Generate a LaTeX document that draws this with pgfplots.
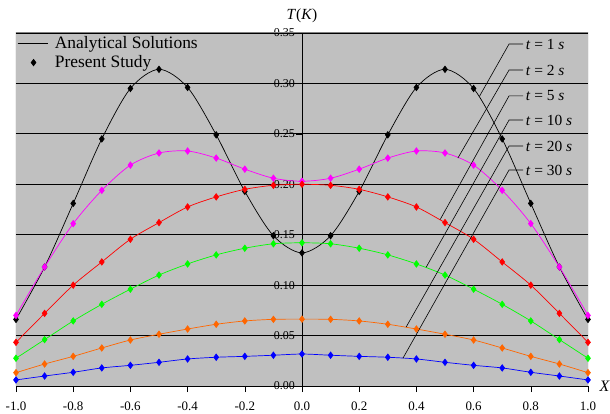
\documentclass[border=0pt]{standalone}
\usepackage{pgfplots}
\pgfplotsset{compat=1.18}
\usepackage{pgfplotstable}
\usepackage{fontspec}
\setmainfont{Liberation Serif}
\definecolor{bggray}{HTML}{C0C0C0}
\definecolor{frgray}{HTML}{808080}
\definecolor{myorange}{HTML}{FF6600}
\definecolor{mymagenta}{HTML}{FF00FF}
\definecolor{mygreen}{HTML}{00FF00}

\pgfplotstableread{
x y
-1.0 0.066
-0.9 0.118
-0.8 0.181
-0.7 0.245
-0.6 0.295
-0.5 0.314
-0.4 0.296
-0.3 0.249
-0.2 0.193
-0.1 0.149
0.0 0.132
0.1 0.149
0.2 0.193
0.3 0.249
0.4 0.296
0.5 0.314
0.6 0.295
0.7 0.245
0.8 0.181
0.9 0.118
1.0 0.066
}\tone
\pgfplotstableread{
x y
-1.0 0.070
-0.9 0.118
-0.8 0.161
-0.7 0.194
-0.6 0.219
-0.5 0.231
-0.4 0.233
-0.3 0.226
-0.2 0.215
-0.1 0.206
0.0 0.203
0.1 0.206
0.2 0.215
0.3 0.226
0.4 0.233
0.5 0.231
0.6 0.219
0.7 0.194
0.8 0.161
0.9 0.118
1.0 0.070
}\ttwo
\pgfplotstableread{
x y
-1.0 0.0433
-0.9 0.072
-0.8 0.100
-0.7 0.123
-0.6 0.1455
-0.5 0.162
-0.4 0.1775
-0.3 0.1875
-0.2 0.195
-0.1 0.199
0.0 0.200
0.1 0.199
0.2 0.195
0.3 0.1875
0.4 0.1775
0.5 0.162
0.6 0.1455
0.7 0.123
0.8 0.100
0.9 0.072
1.0 0.0433
}\tfive
\pgfplotstableread{
x y
-1.0 0.0275
-0.9 0.046
-0.8 0.0645
-0.7 0.081
-0.6 0.096
-0.5 0.110
-0.4 0.121
-0.3 0.130
-0.2 0.1366
-0.1 0.141
0.0 0.142
0.1 0.141
0.2 0.1366
0.3 0.130
0.4 0.121
0.5 0.110
0.6 0.096
0.7 0.081
0.8 0.0645
0.9 0.046
1.0 0.0275
}\tten
\pgfplotstableread{
x y
-1.0 0.0132
-0.9 0.0218
-0.8 0.0294
-0.7 0.0377
-0.6 0.0456
-0.5 0.0513
-0.4 0.0565
-0.3 0.0612
-0.2 0.0645
-0.1 0.0661
0.0 0.0663
0.1 0.0661
0.2 0.0645
0.3 0.0612
0.4 0.0565
0.5 0.0513
0.6 0.0456
0.7 0.0377
0.8 0.0294
0.9 0.0218
1.0 0.0132
}\ttwenty
\pgfplotstableread{
x y
-1.0 0.0060
-0.9 0.0099
-0.8 0.0136
-0.7 0.0179
-0.6 0.0205
-0.5 0.0235
-0.4 0.0268
-0.3 0.0285
-0.2 0.0294
-0.1 0.0305
0.0 0.0317
0.1 0.0305
0.2 0.0294
0.3 0.0285
0.4 0.0268
0.5 0.0235
0.6 0.0205
0.7 0.0179
0.8 0.0136
0.9 0.0099
1.0 0.0060
}\tthirty

\begin{document}
\begin{tikzpicture}
\begin{axis}[
  scale only axis, width=572bp, height=353bp,
  xmin=-1, xmax=1, ymin=0, ymax=0.35,
  axis x line=bottom, axis y line=middle,
  axis line style={-, black, line width=0.8bp},
  axis background/.style={fill=bggray},
  xtick={-1,-0.8,-0.6,-0.4,-0.2,0,0.2,0.4,0.6,0.8,1},
  xticklabels={-1.0,-0.8,-0.6,-0.4,-0.2,0.0,0.2,0.4,0.6,0.8,1.0},
  ytick={0.05,0.1,0.15,0.2,0.25,0.3,0.35},
  yticklabels={0.05,0.10,0.15,0.20,0.25,0.30,0.35},
  extra y ticks={0}, extra y tick labels={0.00},
  hide obscured y ticks=false,
  ymajorgrids, grid style={black, line width=0.8bp},
  extra y tick style={grid=none},
  tick align=outside, major tick length=6bp,
  tick style={black, line width=0.6bp},
  xticklabel style={font=\fontsize{13}{14}\selectfont, yshift=-6bp},
  yticklabel style={font=\fontsize{12}{13}\selectfont, inner sep=1bp},
  xlabel={\textit{X}}, ylabel={\textit{T}(\textit{K})},
  xlabel style={at={(rel axis cs:1,0)}, anchor=west, xshift=8bp, font=\fontsize{16}{18}\selectfont},
  ylabel style={at={(axis cs:0,0.35)}, anchor=south, yshift=7bp, font=\fontsize{15.5}{18}\selectfont},
  legend style={at={(rel axis cs:0,1)}, anchor=north west, draw=none, fill=none,
    inner sep=1bp, row sep=2bp, font=\fontsize{17.5}{19}\selectfont},
  legend cell align=left,
  every axis plot/.append style={line width=0.7bp},
]
\addlegendimage{legend image code/.code={\draw[black, line width=0.7bp] (3bp,0bp) -- (33bp,0bp); \path (38bp,0bp);}}
\addlegendentry{Analytical Solutions}
\addlegendimage{legend image code/.code={\path[black, mark=diamond*, mark size=3.2bp] plot coordinates {(19bp,0bp)}; \path (3bp,0bp) (38bp,0bp);}}
\addlegendentry{Present Study}

\addplot[black, smooth, mark=diamond*, mark size=3.2bp, forget plot] table[x=x,y=y] {\tone};
\addplot[mymagenta, smooth, mark=diamond*, mark size=3.2bp, forget plot] table[x=x,y=y] {\ttwo};
\addplot[red, smooth, mark=diamond*, mark size=3.2bp, forget plot] table[x=x,y=y] {\tfive};
\addplot[mygreen, smooth, mark=diamond*, mark size=3.2bp, forget plot] table[x=x,y=y] {\tten};
\addplot[myorange, smooth, mark=diamond*, mark size=3.2bp, forget plot] table[x=x,y=y] {\ttwenty};
\addplot[blue, smooth, mark=diamond*, mark size=3.2bp, forget plot] table[x=x,y=y] {\tthirty};

\begin{scope}[line width=0.6bp, every node/.style={anchor=west, inner sep=2.5bp, font=\fontsize{15.5}{18}\selectfont}]
\draw (axis cs:0.62,0.287) -- (axis cs:0.724,0.3391) -- (axis cs:0.773,0.3391) node {\textit{t} = 1 \textit{s}};
\draw (axis cs:0.545,0.226) -- (axis cs:0.724,0.3133) -- (axis cs:0.773,0.3133) node {\textit{t} = 2 \textit{s}};
\draw (axis cs:0.483,0.165) -- (axis cs:0.724,0.2877) -- (axis cs:0.773,0.2877) node {\textit{t} = 5 \textit{s}};
\draw (axis cs:0.434,0.1177) -- (axis cs:0.724,0.2637) -- (axis cs:0.773,0.2637) node {\textit{t} = 10 \textit{s}};
\draw (axis cs:0.364,0.0584) -- (axis cs:0.724,0.238) -- (axis cs:0.773,0.238) node {\textit{t} = 20 \textit{s}};
\draw (axis cs:0.353,0.0276) -- (axis cs:0.724,0.2142) -- (axis cs:0.773,0.2142) node {\textit{t} = 30 \textit{s}};
\end{scope}
\draw[frgray, line width=1bp] (rel axis cs:0,0) -- (rel axis cs:0,1) -- (rel axis cs:1,1) -- (rel axis cs:1,0);
\end{axis}
\pgfresetboundingbox
\path[use as bounding box] (current axis.south west) ++(-16bp,-28bp) rectangle ++(610bp,414bp);
\end{tikzpicture}
\end{document}
